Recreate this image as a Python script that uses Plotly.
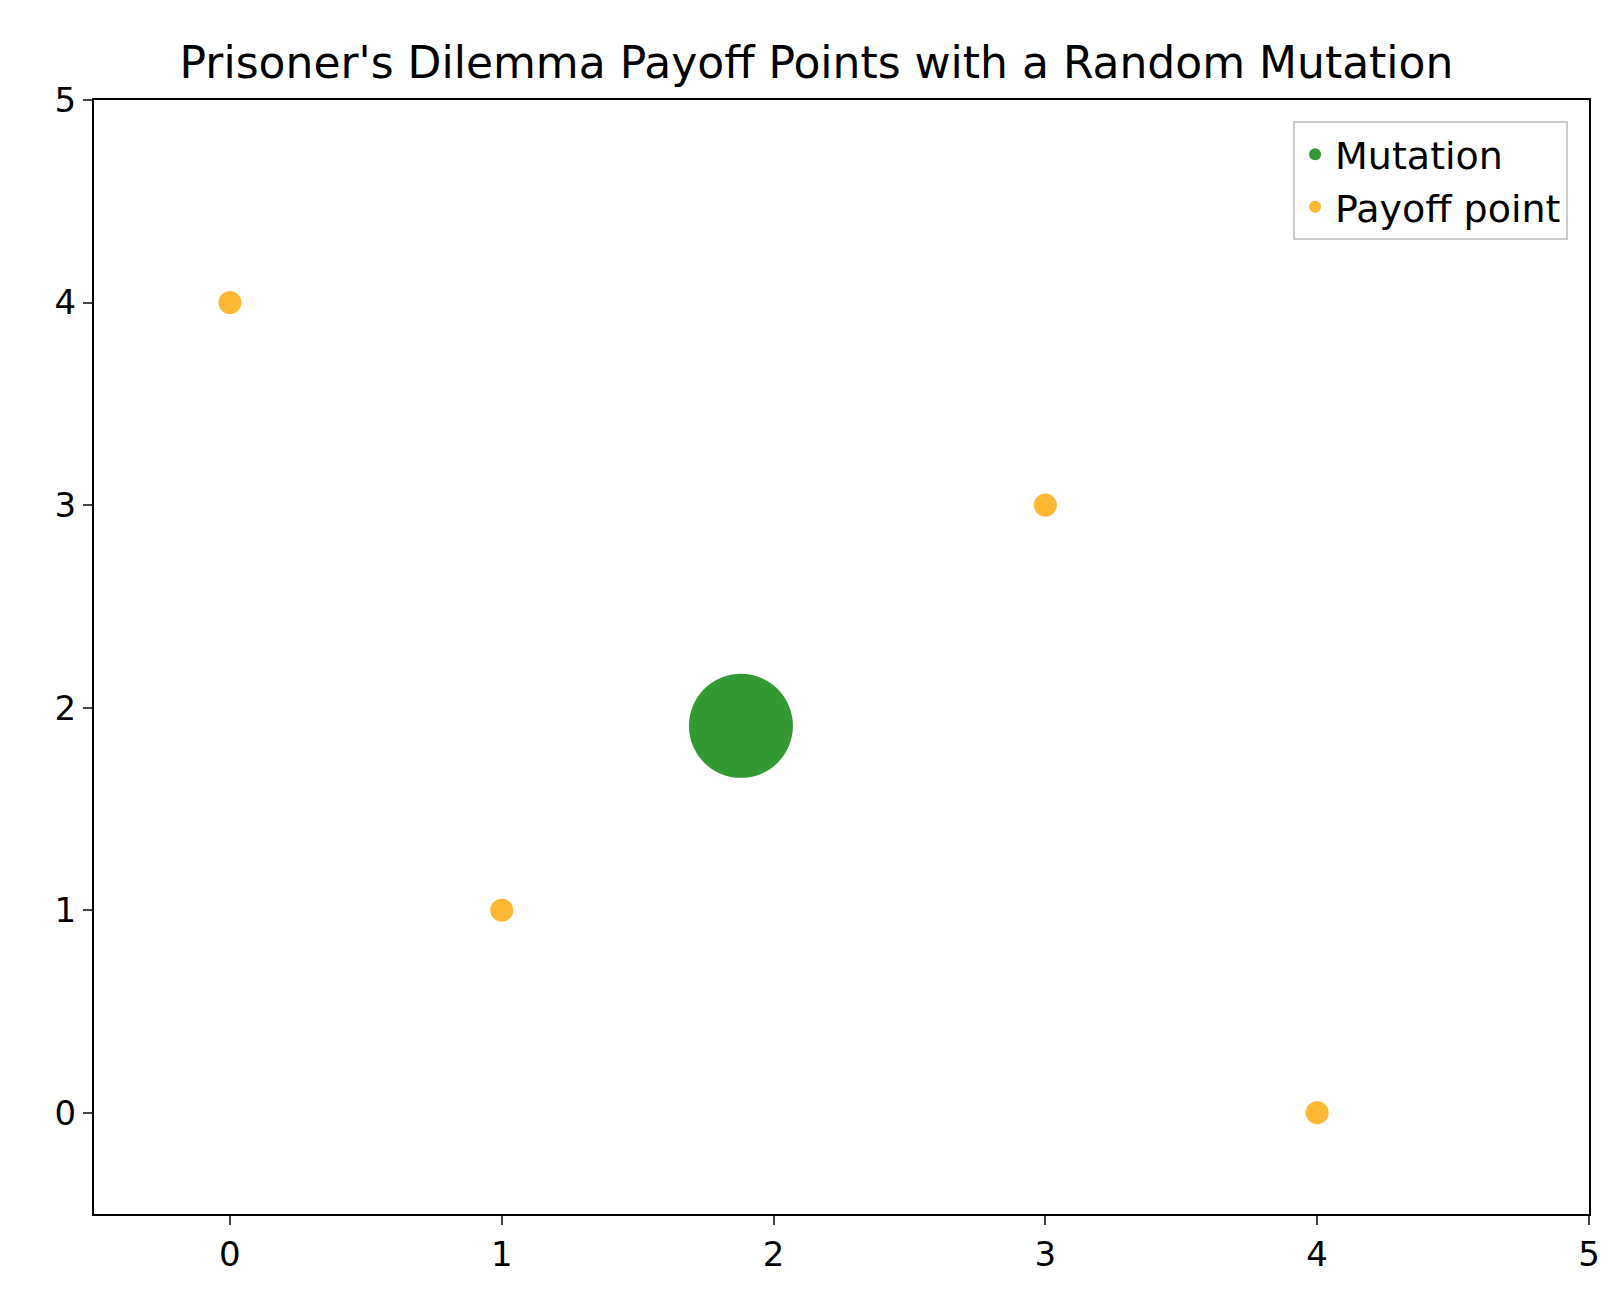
import plotly.graph_objects as go

payoff_x = [0, 1, 3, 4]
payoff_y = [4, 1, 3, 0]
mutation_x = [1.88]
mutation_y = [1.91]
ticks = [0, 1, 2, 3, 4, 5]

fig = go.Figure()
fig.add_trace(go.Scatter(x=mutation_x, y=mutation_y, mode="markers", name="Mutation",
                         marker=dict(color="green", opacity=0.8, size=104, line=dict(width=0))))
fig.add_trace(go.Scatter(x=payoff_x, y=payoff_y, mode="markers", name="Payoff point",
                         marker=dict(color="orange", opacity=0.8, size=23, line=dict(width=0))))

axis = dict(range=[-0.5, 5], tickvals=ticks, showgrid=False, zeroline=False, showline=True,
            linecolor="black", linewidth=2, mirror=True, ticks="outside", ticklen=9,
            tickwidth=2, tickfont=dict(size=34, color="black"))
fig.update_xaxes(**axis)
fig.update_yaxes(**axis)
fig.update_layout(
    width=1617, height=1300, plot_bgcolor="white", paper_bgcolor="white",
    font=dict(family="DejaVu Sans", color="black"),
    title=dict(text="Prisoner's Dilemma Payoff Points with a Random Mutation", x=0.5,
               xanchor="center", y=0.958, yanchor="middle", font=dict(size=44)),
    margin=dict(l=86, r=36, t=92, b=94),
    legend=dict(x=0.986, y=0.981, xanchor="right", yanchor="top", bgcolor="white",
                bordercolor="#cccccc", borderwidth=2, font=dict(size=38), itemsizing="constant"),
)
fig.write_html("out.html")
